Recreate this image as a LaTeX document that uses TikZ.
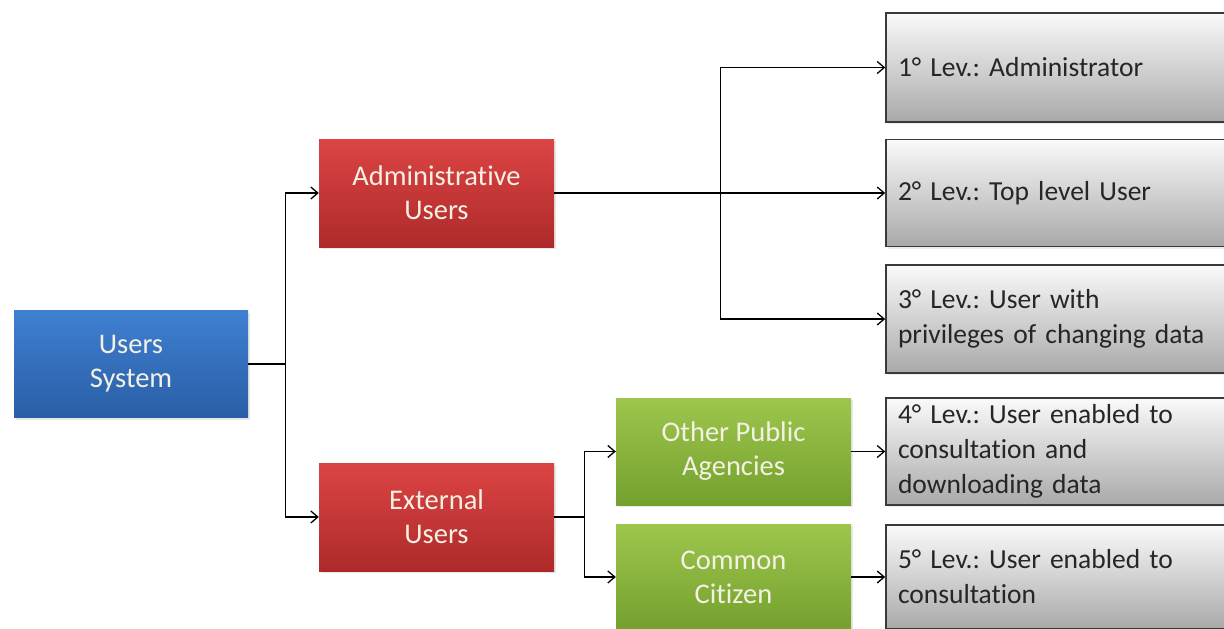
\documentclass[tikz,border=0pt]{standalone}
\usepackage{fontspec}
\setmainfont{Carlito}[Ligatures={NoCommon}]
\usetikzlibrary{shadows,arrows.meta}
\definecolor{bluetop}{HTML}{3F80D2}
\definecolor{bluebot}{HTML}{295EA6}
\definecolor{redtop}{HTML}{DC4444}
\definecolor{redbot}{HTML}{AE2A2A}
\definecolor{greentop}{HTML}{9DC64C}
\definecolor{greenbot}{HTML}{74A02E}
\definecolor{greytop}{HTML}{FAFAFA}
\definecolor{greybot}{HTML}{A9A9A9}
\definecolor{boxtext}{HTML}{F4F1E4}
\definecolor{greyborder}{HTML}{3A3A3A}
\begin{document}
\frenchspacing
\begin{tikzpicture}[x=1pt,y=1pt,
  colbox/.style={rectangle, inner sep=0pt, minimum width=235pt, minimum height=108pt,
    align=center, text=boxtext, font=\fontsize{28.5}{34}\selectfont,
    drop shadow={opacity=0.18, shadow xshift=2pt, shadow yshift=-2pt}},
  bluebox/.style={colbox, top color=bluetop, bottom color=bluebot},
  redbox/.style={colbox, top color=redtop, bottom color=redbot},
  greenbox/.style={colbox, top color=greentop, bottom color=greenbot},
  levbox/.style={rectangle, draw=greyborder, line width=1.6pt, inner xsep=12pt, inner ysep=0pt,
    minimum width=354pt, text width=330pt, align=left, text=black!85,
    top color=greytop, bottom color=greybot, font=\fontsize{27.5}{35}\selectfont,
    drop shadow={opacity=0.15, shadow xshift=2pt, shadow yshift=-2pt}},
  conn/.style={line width=1.4pt, black},
  arr/.style={conn, -{Straight Barb[length=7pt,width=12pt,line width=1.3pt]}}
]
\useasboundingbox (0,0) rectangle (1224,-629);
\clip (0,0) rectangle (1224,-629);
\fill[white] (0,0) rectangle (1224,-629);

\node[bluebox, minimum width=234pt, minimum height=107pt] (us) at (131,-364) {Users\\System};
\node[redbox] (admin) at (436.5,-193) {Administrative\\Users};
\node[redbox] (ext) at (436.5,-517) {External\\Users};
\node[greenbox, minimum height=107pt] (other) at (733.5,-451.5) {Other Public\\Agencies};
\node[greenbox, minimum height=106pt] (common) at (733.5,-577) {Common\\Citizen};

\node[levbox, minimum height=109pt] (g1) at (1063,-67.5) {1° Lev.: Administrator};
\node[levbox, minimum height=107pt] (g2) at (1063,-193) {2° Lev.: Top level User};
\node[levbox, minimum height=108pt] (g3) at (1063,-319) {3° Lev.: User with\\privileges of changing data};
\node[levbox, minimum height=107pt] (g4) at (1063,-451.5) {4° Lev.: User enabled to\\consultation and\\downloading data};
\node[levbox, minimum height=104pt] (g5) at (1063,-577) {5° Lev.: User enabled to\\consultation};

\coordinate (j1) at ([xshift=37pt]us.east);
\draw[conn] (us.east) -- (j1);
\draw[arr] (j1) |- (admin.west);
\draw[arr] (j1) |- (ext.west);

\coordinate (j2) at ([xshift=166pt]admin.east);
\draw[arr] (admin.east) -- (g2.west);
\draw[arr] (j2) |- (g1.west);
\draw[arr] (j2) |- (g3.west);

\coordinate (j3) at ([xshift=30pt]ext.east);
\draw[conn] (ext.east) -- (j3);
\draw[arr] (j3) |- (other.west);
\draw[arr] (j3) |- (common.west);

\draw[arr] (other.east) -- (g4.west);
\draw[arr] (common.east) -- (g5.west);
\end{tikzpicture}
\end{document}
